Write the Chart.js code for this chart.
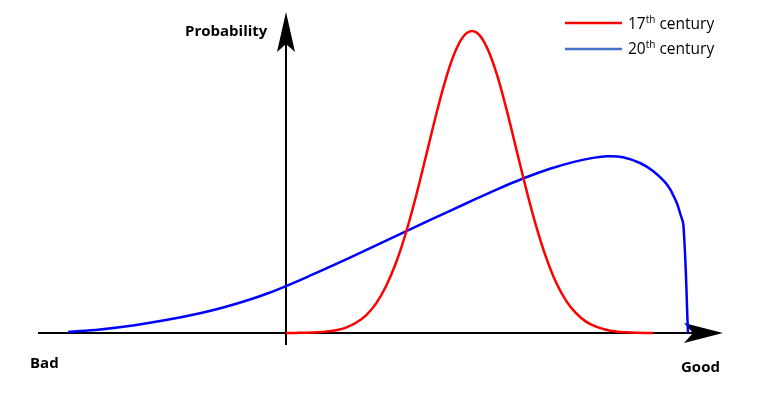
<!DOCTYPE html>
<html>
<head>
<meta charset="utf-8">
<script src="https://cdn.jsdelivr.net/npm/chart.js@4"></script>
<style>
  body { margin: 0; background: #fff; }
  #wrap { position: relative; width: 759px; height: 393px; }
</style>
</head>
<body>
<div id="wrap"><canvas id="qualityChart"></canvas></div>
<script>
// x runs from "Bad" to "Good", vertical axis sits at x = 0
var axisRange = [-24.8, 43.7];
var seriesNames = ['17th century', '20th century'];

var redX = [0, 1, 2, 3, 4, 5, 6, 7, 8, 9, 10, 11, 12, 13, 14, 15, 16, 17, 18, 19, 20, 21, 22, 23, 24, 25, 26, 27, 28, 29, 30, 31, 32, 33, 34, 35, 36.7];
var redY = [0, 0.04, 0.1, 0.22, 0.46, 0.94, 1.8, 3.4, 5.9, 9.8, 15.6, 23.4, 33.5, 45.6, 59.0, 72.6, 84.9, 94.4, 99.8, 100.3, 95.8, 87.1, 75.2, 61.7, 48.2, 35.8, 25.3, 16.9, 10.8, 6.6, 3.8, 2.1, 1.1, 0.53, 0.25, 0.11, 0];

var blueX = [-21.8, -18.6, -15.3, -12.0, -8.6, -6.1, -3.6, -1.8, 0, 2.4, 4.7, 8.1, 11.4, 14.7, 18.1, 21.4, 23.7, 26.4, 28.7, 30.7, 32.1, 33.7, 35.4, 36.7, 38.1, 39.0, 39.4, 39.75, 40.2];
var blueY = [0.33, 1.2, 2.53, 4.3, 6.57, 8.65, 11.15, 13.25, 15.65, 19.1, 22.53, 27.8, 32.97, 38.13, 43.33, 48.3, 51.5, 54.73, 56.97, 58.37, 58.93, 58.6, 56.67, 54.0, 49.5, 44.0, 40.0, 35.67, 0];

function toPoints(xs, ys) {
    return xs.map(function(x, i){ return {x: x, y: ys[i]}; });
}

var FONT = '"Open Sans", "DejaVu Sans", sans-serif';

// draws the black axes with their arrow heads, plus the texts
var axesPlugin = {
    id: 'axes',
    beforeDatasetsDraw: function(chart) {
        var ctx = chart.ctx;
        var xs = chart.scales.x, ys = chart.scales.y;
        var y0 = ys.getPixelForValue(0);
        var x0 = xs.getPixelForValue(0);
        var xl = xs.getPixelForValue(axisRange[0]);
        var xr = xs.getPixelForValue(axisRange[1]);
        var yt = ys.getPixelForValue(107);
        ctx.save();
        ctx.strokeStyle = '#000';
        ctx.lineWidth = 2;
        ctx.beginPath();
        ctx.moveTo(xl, y0); ctx.lineTo(xr - 20, y0);
        ctx.moveTo(x0, y0 + 12); ctx.lineTo(x0, yt + 20);
        ctx.stroke();
        ctx.fillStyle = '#000';
        // right arrow
        ctx.beginPath();
        ctx.moveTo(xr, y0);
        ctx.lineTo(xr - 39, y0 - 10);
        ctx.lineTo(xr - 30, y0);
        ctx.lineTo(xr - 39, y0 + 10);
        ctx.closePath();
        ctx.fill();
        // up arrow
        ctx.beginPath();
        ctx.moveTo(x0, yt);
        ctx.lineTo(x0 - 9, yt + 40);
        ctx.lineTo(x0, yt + 32);
        ctx.lineTo(x0 + 9, yt + 40);
        ctx.closePath();
        ctx.fill();
        ctx.restore();
    },
    afterDraw: function(chart) {
        var ctx = chart.ctx;
        ctx.save();
        ctx.fillStyle = '#000';
        ctx.textBaseline = 'middle';
        ctx.font = 'bold 15px ' + FONT;
        ctx.textAlign = 'left';
        ctx.fillText('Probability', 185, 32);
        ctx.fillText('Bad', 30, 364);
        ctx.fillText('Good', 681, 368);

        // legend with superscript
        var colors = ['#FF0000', '#4472C4'];
        var rows = [23, 49];
        var textRows = [25, 50];
        seriesNames.forEach(function(name, i) {
            var y = rows[i];
            ctx.strokeStyle = colors[i];
            ctx.lineWidth = 2.5;
            ctx.beginPath();
            ctx.moveTo(565, y); ctx.lineTo(622, y);
            ctx.stroke();
            var m = name.match(/^(\d+)(th)(.*)$/);
            var x = 628, ty = textRows[i];
            ctx.fillStyle = '#000';
            ctx.font = '15.5px ' + FONT;
            ctx.fillText(m[1], x, ty);
            x += ctx.measureText(m[1]).width;
            ctx.font = '10px ' + FONT;
            ctx.fillText(m[2], x, ty - 5);
            x += ctx.measureText(m[2]).width;
            ctx.font = '15.5px ' + FONT;
            ctx.fillText(m[3], x, ty);
        });
        ctx.restore();
    }
};

var ctx = document.getElementById('qualityChart').getContext('2d');
var chart = new Chart(ctx, {
    type: 'line',
    data: {
        datasets: [{
            label: seriesNames[0],
            data: toPoints(redX, redY),
            borderColor: '#FF0000',
            borderWidth: 2.5,
            pointRadius: 0,
            fill: false,
            tension: 0.4,
            clip: false
        },
        {
            label: seriesNames[1],
            data: toPoints(blueX, blueY),
            borderColor: '#0000FF',
            borderWidth: 2.5,
            pointRadius: 0,
            fill: false,
            tension: 0.4,
            clip: false
        }]
    },
    options: {
        responsive: true,
        maintainAspectRatio: false,
        animation: false,
        layout: { padding: { left: 36, right: 33, top: 3, bottom: 60 } },
        scales: {
            x: { type: 'linear', min: -25, max: 44, display: false },
            y: { min: 0, max: 110, display: false }
        },
        plugins: {
            legend: { display: false },
            tooltip: { enabled: false }
        }
    },
    plugins: [axesPlugin]
});
</script>
</body>
</html>
